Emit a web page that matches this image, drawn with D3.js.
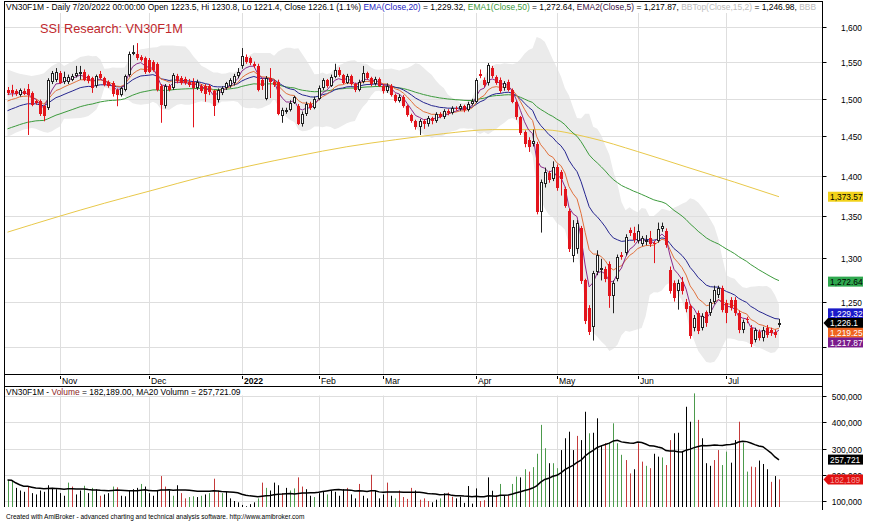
<!DOCTYPE html>
<html><head><meta charset="utf-8">
<script src="https://cdn.jsdelivr.net/npm/d3@7"></script>
<style>body{margin:0;background:#fff}svg{display:block}</style>
</head><body>
<svg id="c" width="870" height="524"></svg>
<script>
// ---------------- DATA ----------------
const months = ["Nov","Dec","2022","Feb","Mar","Apr","May","Jun","Jul"];
const monthStart = [13,35,58,77,93,116,136,156,178];
const open = [1512,1512,1510,1505,1511,1513,1508,1497,1497,1490,
1488,1523,1526,1535,1523,1523,1526,1531,1536,1537,
1531,1528,1517,1534,1528,1523,1521,1512,1505,1512,
1533,1564,1562,1558,1556,1553,1551,1548,1517,1490,
1517,1515,1531,1528,1527,1523,1523,1515,1517,1517,
1517,1510,1498,1508,1515,1517,1521,1531,1545,1558,
1556,1548,1545,1526,1500,1528,1523,1523,1477,1482,
1485,1495,1490,1467,1480,1493,1488,1500,1515,1525,
1518,1530,1540,1532,1522,1531,1520,1512,1523,1535,
1528,1520,1527,1518,1510,1518,1505,1497,1503,1490,
1478,1470,1462,1470,1466,1474,1470,1480,1476,1484,
1481,1488,1486,1490,1485,1493,1496,1534,1526,1522,
1542,1530,1526,1514,1523,1512,1496,1475,1456,1446,
1440,1440,1355,1390,1403,1396,1411,1404,1383,1356,
1302,1311,1335,1274,1243,1222,1284,1287,1287,1293,
1256,1276,1304,1306,1333,1329,1320,1317,1320,1323,
1318,1320,1334,1332,1286,1271,1262,1272,1250,1245,
1221,1237,1221,1238,1237,1250,1257,1265,1248,1252,
1252,1237,1218,1231,1221,1208,1216,1210,1221,1218,
1216,1223.5];
const high = [1516,1519,1513,1514,1514,1520,1510,1499,1499,1492,
1528,1538,1542,1538,1537,1533,1534,1545,1545,1540,
1533,1530,1533,1538,1530,1525,1524,1514,1516,1533,
1565,1574,1577,1560,1558,1556,1553,1550,1520,1520,
1520,1535,1534,1531,1530,1527,1528,1526,1520,1520,
1520,1512,1514,1517,1523,1528,1534,1542,1570,1561,
1558,1551,1548,1528,1531,1542,1526,1526,1488,1488,
1498,1504,1493,1483,1496,1496,1503,1518,1528,1527,
1533,1548,1543,1534,1534,1533,1522,1526,1545,1537,
1530,1530,1529,1520,1521,1520,1507,1506,1505,1492,
1480,1472,1473,1473,1477,1476,1482,1482,1486,1486,
1490,1490,1493,1492,1496,1500,1528,1540,1529,1549,
1545,1532,1529,1524,1526,1514,1498,1477,1458,1449,
1459,1443,1395,1410,1406,1418,1414,1407,1386,1359,
1345,1345,1338,1276,1246,1285,1309,1299,1290,1296,
1274,1304,1307,1328,1336,1337,1340,1326,1327,1332,
1320,1342,1342,1335,1290,1274,1275,1278,1253,1247,
1235,1240,1237,1240,1253,1268,1268,1268,1252,1255,
1255,1240,1230,1233,1224,1221,1219,1222,1224,1221,
1219,1230.8];
const low = [1505,1503,1504,1503,1505,1452,1490,1492,1477,1470,
1485,1520,1523,1520,1520,1520,1524,1529,1526,1524,
1521,1508,1515,1526,1517,1515,1503,1490,1503,1510,
1530,1560,1553,1551,1534,1535,1537,1510,1468,1487,
1510,1512,1521,1519,1519,1516,1462,1512,1508,1496,
1505,1477,1495,1505,1512,1515,1518,1528,1541,1548,
1546,1542,1510,1512,1498,1501,1516,1478,1468,1480,
1483,1493,1465,1463,1477,1485,1486,1498,1512,1515,
1516,1528,1530,1520,1520,1518,1509,1510,1521,1526,
1517,1518,1516,1507,1508,1503,1495,1495,1488,1476,
1468,1459,1452,1460,1463,1466,1468,1474,1473,1478,
1479,1484,1484,1482,1483,1491,1494,1528,1516,1518,
1528,1519,1508,1511,1510,1494,1472,1452,1436,1430,
1437,1352,1330,1385,1391,1393,1381,1375,1360,1307,
1295,1305,1270,1225,1213,1207,1280,1274,1272,1243,
1237,1273,1298,1303,1326,1318,1317,1314,1315,1313,
1294,1318,1331,1312,1259,1250,1241,1258,1238,1209,
1217,1214,1218,1222,1234,1247,1254,1238,1226,1240,
1234,1215,1215,1226,1200,1205,1207,1206,1210,1212,
1210,1221.4];
const close = [1508,1508,1507,1512,1507,1505,1492,1494,1479,1477,
1526,1535,1537,1522,1529,1530,1531,1535,1537,1526,
1524,1515,1531,1528,1519,1517,1506,1505,1514,1531,
1562,1565,1556,1553,1537,1537,1540,1512,1492,1517,
1512,1533,1524,1521,1521,1519,1515,1523,1511,1506,
1509,1490,1512,1515,1521,1526,1531,1537,1559,1551,
1549,1545,1512,1517,1528,1523,1519,1480,1485,1485,
1495,1502,1467,1480,1493,1488,1500,1515,1525,1518,
1530,1540,1532,1522,1531,1520,1512,1523,1535,1528,
1520,1527,1518,1510,1518,1505,1497,1503,1490,1478,
1470,1462,1470,1466,1474,1470,1480,1476,1484,1481,
1488,1486,1490,1485,1493,1497,1526,1531,1519,1546,
1531,1521,1510,1521,1512,1496,1475,1455,1440,1437,
1444,1355,1392,1405,1394,1411,1384,1396,1362,1310,
1337,1342,1273,1228,1216,1282,1304,1288,1276,1256,
1271,1301,1301,1325,1329,1321,1332,1323,1321,1316,
1316,1334,1338,1315,1262,1254,1271,1262,1242,1212,
1232,1217,1234,1226,1250,1263,1265,1241,1237,1243,
1237,1218,1227,1229,1203,1218,1210,1219,1213,1215,
1213,1226.1];
const volume = [180,178,150,140,135,155,130,125,140,135,
160,150,145,130,120,170,155,125,140,158,
130,150,145,120,125,130,155,152,120,118,
140,145,150,165,155,130,120,140,195,155,
140,120,160,130,110,115,118,115,120,125,
130,185,140,130,135,110,100,95,85,80,
88,95,110,170,150,140,170,160,130,150,
140,148,190,155,145,120,115,130,135,125,
140,135,120,145,150,125,110,165,120,110,
200,140,110,125,170,120,110,140,115,108,
150,140,105,110,100,95,105,110,129,132,
116,110,116,93,157,90,148,100,103,190,
139,122,165,122,122,165,193,190,221,212,
229,280,390,301,244,244,225,294,339,364,
294,348,332,440,358,360,415,313,320,322,
396,320,276,256,205,221,320,250,234,225,
280,269,266,237,332,358,360,288,459,402,
510,409,339,244,234,256,294,237,288,246,
332,402,322,212,231,229,254,241,221,173,
195,182.189].map(v => v * 1000);
const volColor = "ggkkkrkkkkkkkkkgrkkgkgkrkkgrkkkkkgkkkkrrkgkrrggkgkgrrgkkkkkkkkgrgkkkrkggrrkkgkkgkkkkrkkrkkrkkkrkgrrrrkrrrkkgkrrkkkkkkrrkkrgkrggkgrggggkggkkkkrkkgkkkrggggrrkrrgrkkgrrkkkkkgrkkkrrggkkrggrrkkkrkrkr";
const priceTicks = [1200,1250,1300,1350,1400,1450,1500,1550,1600];
const volTicks = [100000,200000,300000,400000,500000];
// long average (yellow) read every 12 bars
const longIdx = [0,12,24,36,48,60,72,84,96,108,120,132,144,156,168,180,191];
const longVal = [1330.5,1348.4,1365.6,1381.7,1398.1,1412.2,1425.0,1436.7,1445.8,1453.7,1459.0,1459.0,1448.6,1430.5,1410.9,1391.7,1373.57];
// indicator values before the first visible bar
const emaSeed = {e5:1506, e10:1497, e20:1484, e50:1460};
const bbStartTop = [1540,1538,1536,1534,1533,1532,1531,1532,1533,1535,1540,1545,1548,1550];
const bbStartBot = [1450,1452,1455,1457,1459,1460,1461,1460,1458,1456,1455,1457,1460,1463];
// right-axis value tags
const priceTags = [
  {v:1373.57, t:"1,373.57", fill:"#f2d21a", color:"#000"},
  {v:1272.64, t:"1,272.64", fill:"#2fa84f", color:"#000"},
  {v:1229.32, t:"1,229.32", fill:"#1a1ac8", color:"#fff"},
  {v:1226.1,  t:"1,226.1",  fill:"#000",    color:"#fff", arrow:true, fixed:true},
  {v:1219.25, t:"1,219.25", fill:"#f0641e", color:"#fff"},
  {v:1217.87, t:"1,217.87", fill:"#7a1a8c", color:"#fff"}
];
const volTags = [
  {v:257721, t:"257,721", fill:"#000", color:"#fff"},
  {v:182189, t:"182,189", fill:"#e01010", color:"#f59a9a", arrow:true}
];

// ---------------- INDICATORS ----------------
const N = close.length;
function ema(n, seed){const k=2/(n+1);const o=[seed];for(let i=1;i<N;i++)o.push(o[i-1]+k*(close[i]-o[i-1]));return o;}
const e5=ema(5,emaSeed.e5), e10=ema(10,emaSeed.e10), e20=ema(20,emaSeed.e20), e50=ema(50,emaSeed.e50);
const bbTop=[], bbBot=[];
for(let i=0;i<N;i++){
  if(i<14){bbTop.push(bbStartTop[i]);bbBot.push(bbStartBot[i]);continue;}
  const w=close.slice(i-14,i+1), m=d3.mean(w), sd=Math.sqrt(d3.mean(w,v=>(v-m)*(v-m)));
  bbTop.push(m+2*sd); bbBot.push(m-2*sd);
}
const volMA = volume.map((v,i)=>d3.mean(volume.slice(Math.max(0,i-19),i+1)));

// ---------------- LAYOUT ----------------
const svg = d3.select("#c");
const FONT = "'Liberation Sans', Arial, sans-serif";
const AX = 822.5;
const pTop = 13, pBot = 374.5, vTop = 386.5, vBot = 507;
const x = d3.scaleLinear().domain([0, N-1]).range([7.5, 779]);
const yP = d3.scaleLog().domain([1200,1600]).range([347,27]);
const yV = d3.scaleLinear().domain([100000,500000]).range([501,396]);
const px = i => Math.round(x(i));

svg.append("rect").attr("width",870).attr("height",524).attr("fill","#fff");
const defs = svg.append("defs");
defs.append("clipPath").attr("id","cp").append("rect").attr("x",5).attr("y",pTop).attr("width",AX-5).attr("height",pBot-pTop);
defs.append("clipPath").attr("id","cv").append("rect").attr("x",5).attr("y",vTop+1).attr("width",AX-5).attr("height",vBot-vTop);
defs.append("clipPath").attr("id","ct").append("rect").attr("x",5).attr("y",0).attr("width",AX-5).attr("height",13);

// ---- price pane
const gp = svg.append("g").attr("clip-path","url(#cp)");
gp.append("path").datum(d3.range(N))
  .attr("d", d3.area().x(i=>x(i)).y0(i=>yP(bbBot[i])).y1(i=>yP(bbTop[i])))
  .attr("fill","#ebebeb");
const gridC = "#dedede";
gp.selectAll(".hg").data(priceTicks).join("line")
  .attr("x1",5).attr("x2",AX).attr("y1",d=>Math.round(yP(d))+0.5).attr("y2",d=>Math.round(yP(d))+0.5)
  .attr("stroke",gridC).attr("stroke-width",1);
gp.selectAll(".vg").data(monthStart).join("line")
  .attr("x1",d=>px(d)+0.5).attr("x2",d=>px(d)+0.5).attr("y1",pTop).attr("y2",pBot)
  .attr("stroke",gridC).attr("stroke-width",1);

// long average
gp.append("path").datum(longIdx.map((d,k)=>[x(d), yP(longVal[k])]))
  .attr("d", d3.line().curve(d3.curveMonotoneX)).attr("fill","none").attr("stroke","#e8c84a").attr("stroke-width",1);
const line = arr => d3.line().x((d,i)=>x(i)).y(d=>yP(d))(arr);
[[e50,"#3c9a3c"],[e20,"#25258f"],[e10,"#e0703c"],[e5,"#8a2a8a"]].forEach(([a,c])=>{
  gp.append("path").attr("d",line(a)).attr("fill","none").attr("stroke",c).attr("stroke-width",1);
});

// candles
const RED = "#e3141c";
const gc = gp.append("g");
d3.range(N).forEach(i=>{
  const up = close[i] >= open[i];
  const cx = px(i);
  const hy = yP(high[i]), ly = yP(low[i]);
  gc.append("rect").attr("x",cx).attr("y",hy).attr("width",1).attr("height",Math.max(1,ly-hy))
    .attr("fill", up ? "#222" : RED);
  const t = Math.round(yP(Math.max(open[i],close[i]))), b = Math.round(yP(Math.min(open[i],close[i])));
  const h = Math.max(1, b-t);
  if(up){
    gc.append("rect").attr("x",cx-0.5).attr("y",t+0.5).attr("width",2).attr("height",Math.max(0.5,h-1+ (h<2?1:0)))
      .attr("fill","#fff").attr("stroke","#222").attr("stroke-width",1);
  } else {
    gc.append("rect").attr("x",cx-1).attr("y",t).attr("width",3).attr("height",h).attr("fill",RED);
  }
});

// ---- volume pane
const gv = svg.append("g").attr("clip-path","url(#cv)");
gv.selectAll(".hv").data(volTicks).join("line")
  .attr("x1",5).attr("x2",AX).attr("y1",d=>Math.round(yV(d))+0.5).attr("y2",d=>Math.round(yV(d))+0.5)
  .attr("stroke",gridC);
gv.selectAll(".vv").data(monthStart).join("line")
  .attr("x1",d=>px(d)+0.5).attr("x2",d=>px(d)+0.5).attr("y1",vTop+9).attr("y2",vBot)
  .attr("stroke",gridC);
const vcol = {g:"#4c9a4c", r:"#c43a3a", k:"#000"};
gv.selectAll(".vb").data(volume).join("rect")
  .attr("x",(d,i)=>px(i)).attr("width",1)
  .attr("y",d=>yV(d)).attr("height",d=>Math.max(0,vBot-yV(d)))
  .attr("fill",(d,i)=>vcol[volColor[i]]||"#000");
gv.append("path").attr("d", d3.line().x((d,i)=>x(i)).y(d=>yV(d))(volMA))
  .attr("fill","none").attr("stroke","#000").attr("stroke-width",1.5);

// ---- frame
const fr = svg.append("g").attr("stroke","#000").attr("stroke-width",1).attr("fill","none");
fr.append("line").attr("x1",4.5).attr("x2",4.5).attr("y1",1).attr("y2",vBot);
fr.append("line").attr("x1",AX).attr("x2",AX).attr("y1",1).attr("y2",vBot+3);
fr.append("line").attr("x1",4.5).attr("x2",AX).attr("y1",1.5).attr("y2",1.5);
fr.append("line").attr("x1",4.5).attr("x2",AX).attr("y1",pBot).attr("y2",pBot);
fr.append("line").attr("x1",4.5).attr("x2",AX).attr("y1",vTop).attr("y2",vTop);

// ---- date axis labels
const gm = svg.append("g").attr("font-family",FONT).attr("font-size",8.6).attr("fill","#000");
monthStart.forEach((s,k)=>{
  gm.append("line").attr("x1",px(s)+0.5).attr("x2",px(s)+0.5).attr("y1",376).attr("y2",379).attr("stroke","#000");
  gm.append("text").attr("x",px(s)+2).attr("y",383.5).attr("font-weight",months[k]==="2022"?"bold":"normal").text(months[k]);
});

// ---- y axes (the 1,200 label sits fully under the value tags in the reference)
const ga = svg.append("g").attr("font-family",FONT).attr("font-size",8.4).attr("fill","#000");
priceTicks.forEach(t=>{
  const yy = Math.round(yP(t))+0.5;
  ga.append("line").attr("x1",AX).attr("x2",AX+4).attr("y1",yy).attr("y2",yy).attr("stroke","#000");
  if(t !== 1200) ga.append("text").attr("x",862).attr("y",yy+3).attr("text-anchor","end").text(d3.format(",")(t));
});
volTicks.forEach(t=>{
  const yy = Math.round(yV(t))+0.5;
  ga.append("line").attr("x1",AX).attr("x2",AX+4).attr("y1",yy).attr("y2",yy).attr("stroke","#000");
  ga.append("text").attr("x",862).attr("y",yy+3).attr("text-anchor","end").text(d3.format(",")(t));
});

// ---- value tags
function drawTags(tags, yScale, gap){
  const items = tags.map(d=>({...d, y:yScale(d.v)})).sort((a,b)=>a.y-b.y);
  const fi = items.findIndex(d=>d.fixed);
  if(fi>=0){
    for(let k=fi-1;k>=0;k--) if(items[k].y>items[k+1].y-gap) items[k].y=items[k+1].y-gap;
    for(let k=fi+1;k<items.length;k++) if(items[k].y<items[k-1].y+gap) items[k].y=items[k-1].y+gap;
  } else {
    for(let k=1;k<items.length;k++) if(items[k].y<items[k-1].y+gap) items[k].y=items[k-1].y+gap;
  }
  items.forEach(d=>{
    const yy = d.y, h=10;
    if(d.arrow){
      svg.append("path").attr("d",`M${AX+1},${yy} L${828},${yy-h/2} L${863},${yy-h/2} L${863},${yy+h/2} L${828},${yy+h/2} Z`).attr("fill",d.fill);
    } else {
      svg.append("rect").attr("x",828).attr("y",yy-h/2).attr("width",35).attr("height",h).attr("fill",d.fill);
    }
    svg.append("text").attr("x",830).attr("y",yy+3.2).attr("font-family",FONT).attr("font-size",8.4)
      .attr("fill",d.color).text(d.t);
  });
}
drawTags(priceTags, yP, 9.7);
drawTags(volTags, yV, 10);

// ---- text helpers
function fit(sel, width){
  const n = sel.node(); const w = n.getComputedTextLength();
  const fs = parseFloat(sel.attr("font-size"));
  sel.attr("font-size", fs*width/w);
}
// title (the reference clips it at the axis line, right after "BBB")
const segs = [
 ["VN30F1M - Daily 7/20/2022 00:00:00 Open 1223.5, Hi 1230.8, Lo 1221.4, Close 1226.1 (1.1%) ","#000"],
 ["EMA(Close,20)","#2323c0"],[" = 1,229.32, ","#000"],
 ["EMA1(Close,50)","#3a9a3a"],[" = 1,272.64, ","#000"],
 ["EMA2(Close,5)","#3a1040"],[" = 1,217.87, ","#000"],
 ["BBTop(Close,15,2)","#bcbcbc"],[" = 1,246.98, ","#000"],
 ["BBB","#bcbcbc"]
];
const probe = svg.append("text").attr("font-family",FONT).attr("font-size",10).text(segs.slice(0,9).map(s=>s[0]).join(""));
const pw = probe.node().getComputedTextLength(); probe.remove();
const tfs = 10*(798-6)/pw;
const tt = svg.append("g").attr("clip-path","url(#ct)").append("text").attr("x",6).attr("y",10)
  .attr("font-family",FONT).attr("font-size",tfs).style("white-space","pre");
segs.forEach(s=>tt.append("tspan").attr("fill",s[1]).text(s[0]));

const ssi = svg.append("text").attr("x",40).attr("y",33).attr("font-family",FONT).attr("font-size",14)
  .attr("fill","#c0282d").text("SSI Research: VN30F1M");
fit(ssi,143);

// volume title
const vt = svg.append("text").attr("x",6).attr("y",395).attr("font-family",FONT).attr("font-size",9).style("white-space","pre");
vt.append("tspan").attr("fill","#000").text("VN30F1M - ");
vt.append("tspan").attr("fill","#8b1c1c").text("Volume");
vt.append("tspan").attr("fill","#000").text(" = 182,189.00, MA20 Volumn = 257,721.09");
fit(vt,235);

// footer
const ft = svg.append("text").attr("x",6).attr("y",519).attr("font-family",FONT).attr("font-size",6).attr("fill","#000")
  .text("Created with AmiBroker - advanced charting and technical analysis software. http://www.amibroker.com");
fit(ft,299);
</script>
</body></html>
